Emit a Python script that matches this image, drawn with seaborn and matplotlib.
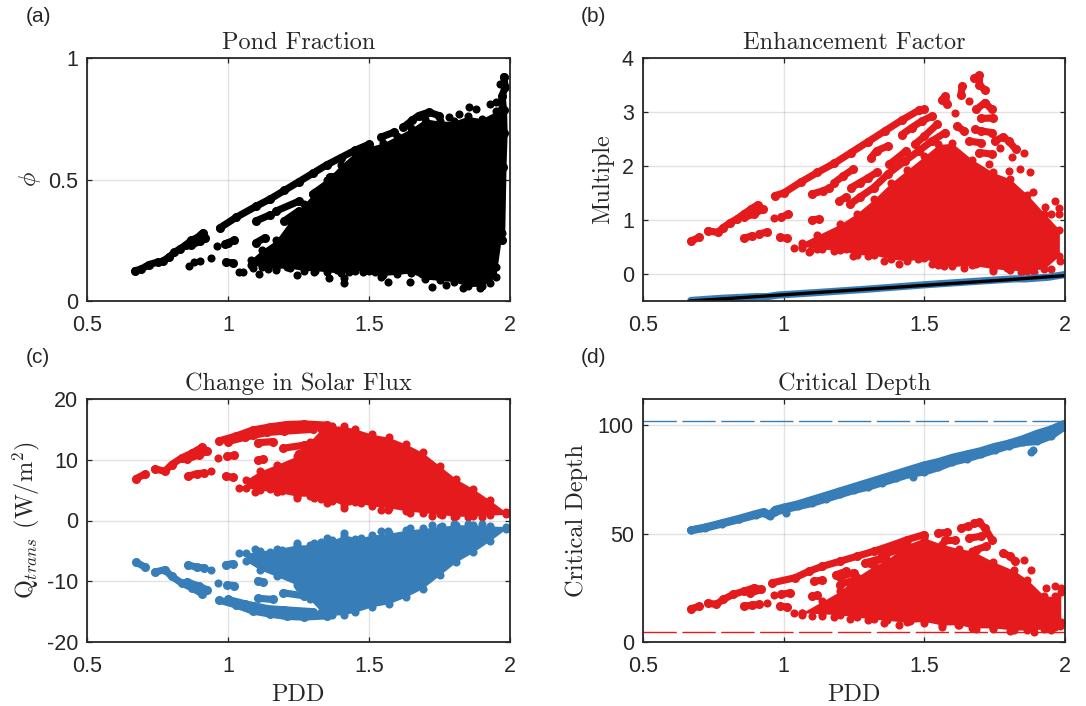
import matplotlib
matplotlib.use("Agg")
import matplotlib.pyplot as plt
import seaborn as sns

sns.set_style("white")
plt.rcParams.update({"font.family": ["Liberation Sans", "DejaVu Sans"], "mathtext.fontset": "cm",
                     "axes.unicode_minus": False})

RED = "#e41a1c"
BLUE = "#377eb8"
BLACK = "#000000"
TXT = "#262626"

# ---------- (a) Pond fraction ----------
a_core_x = [1.08, 1.12, 1.17, 1.22, 1.27, 1.31, 1.35, 1.4, 1.45, 1.5, 1.55, 1.6, 1.65, 1.7, 1.75, 1.8, 1.85, 1.9, 1.95, 1.972]
a_core_hi = [.17, .21, .25, .33, .40, .45, .50, .56, .61, .635, .65, .68, .71, .75, .74, .74, .76, .75, .78, .84]
a_core_lo = [.15, .14, .135, .135, .125, .125, .12, .115, .125, .125, .105, .11, .115, .09, .085, .08, .06, .06, .10, .28]
a_edge_x = [1.04, 1.09, 1.11, 1.142, 1.17, 1.21, 1.244, 1.304, 1.358, 1.388, 1.41, 1.41, 1.43, 1.478, 1.52, 1.544, 1.568,
            1.592, 1.646, 1.688, 1.724, 1.772, 1.802, 1.832, 1.892, 1.928, 1.952]
a_edge_y = [.12, .134, .113, .13, .128, .14, .107, .12, .093, .127, .075, .095, .12, .12, .12, .10, .08,
            .127, .08, .113, .056, .066, .10, .052, .052, .073, .14]
a_streak_x = [[.67, .69, .72, .75], [.77, .79, .81, .83, .85, .87, .89, .91, .92, .90, .87],
              [.97, 1.03, 1.1, 1.15, 1.2, 1.25, 1.3, 1.35, 1.4, 1.45, 1.5],
              [1.10, 1.15], [1.17, 1.25], [1.2, 1.25], [1.3, 1.36], [1.36, 1.43], [1.10, 1.13],
              [.99, 1.0, 1.022], [.992, 1.016],
              [1.544, 1.59], [1.622, 1.652, 1.676, 1.712, 1.748],
              [1.97, 1.975, 1.979, 1.977, 1.972, 1.983, 1.978]]
a_streak_y = [[.125, .13, .15, .16], [.165, .18, .20, .215, .23, .25, .26, .28, .26, .245, .23],
              [.30, .345, .39, .42, .455, .49, .525, .56, .59, .62, .645],
              [.33, .355], [.37, .41], [.33, .37], [.44, .49], [.51, .52], [.24, .26],
              [.235, .24, .25], [.16, .157],
              [.675, .695], [.715, .743, .763, .777, .763],
              [.25, .55, .69, .784, .845, .88, .923]]
a_pts_x = [.86, .88, .90, .94, .962, 1.784, 1.82, 1.856, 1.88, 1.928, 1.952, 1.964, 1.054]
a_pts_y = [.145, .16, .165, .175, .226, .757, .77, .797, .79, .811, .818, .893, .12]

# ---------- (b) Enhancement factor ----------
b_core_x = [1.065, 1.12, 1.2, 1.26, 1.32, 1.38, 1.44, 1.5, 1.55, 1.6, 1.67, 1.745, 1.805, 1.866, 1.927, 1.98]
b_core_hi = [.58, .72, .92, 1.12, 1.38, 1.68, 1.93, 2.18, 2.4, 2.42, 2.12, 1.88, 1.76, 1.47, 1.12, .82]
b_core_lo = [.52, .46, .45, .36, .35, .28, .24, .30, .16, .14, .16, .10, .07, .06, .10, .34]
b_edge_x = [1.037, 1.065, 1.095, 1.138, 1.18, 1.22, 1.247, 1.30, 1.356, 1.409, 1.43, 1.478, 1.526, 1.569, 1.642, 1.684, 1.745,
            1.794, 1.842, 1.89, 1.951, 1.982]
b_edge_y = [.48, .49, .42, .46, .42, .46, .34, .34, .25, .18, .31, .28, .18, .14, .12, .18, .06,
            .12, .03, .03, .09, .25]
b_streak_x = [[.67, .70], [.73, .767, .785, .81, .834, .858, .883, .907, .925, .895, .86],
              [.968, 1.0, 1.06, 1.12, 1.18, 1.24, 1.3, 1.36, 1.42, 1.48, 1.5], [.858, .889], [.913, .941],
              [.992, 1.016], [.986, 1.013],
              [1.10, 1.14, 1.162], [1.18, 1.21, 1.247], [1.198, 1.22], [1.24, 1.27, 1.30, 1.33],
              [1.31, 1.33, 1.37], [1.375, 1.405, 1.435], [1.42, 1.455, 1.49, 1.526], [1.466, 1.50, 1.545],
              [1.10, 1.125], [1.235, 1.27, 1.32, 1.37, 1.43, 1.48, 1.526, 1.575],
              [1.563, 1.575, 1.58], [1.635, 1.63], [1.678, 1.696, 1.696, 1.715], [1.685, 1.715], [1.715, 1.74], [1.70, 1.745],
              [1.617, 1.64], [1.68, 1.70, 1.74], [1.66, 1.70], [1.695, 1.74], [1.75, 1.78, 1.80, 1.825]]
b_streak_y = [[.61, .68], [.80, .77, .86, .95, 1.02, 1.11, 1.2, 1.28, 1.2, 1.11, 1.05],
              [1.45, 1.5, 1.7, 1.88, 2.05, 2.25, 2.45, 2.65, 2.85, 3.03, 3.05], [.66, .71], [.74, .78],
              [1.05, 1.11], [.68, .66],
              [1.48, 1.54, 1.59], [1.69, 1.81, 1.94], [1.35, 1.42], [1.6, 1.69, 1.78, 1.88],
              [2.15, 2.28, 2.37], [2.03, 2.15, 2.28], [2.58, 2.71, 2.83, 2.92], [2.4, 2.55, 2.77],
              [1.0, 1.02], [1.29, 1.42, 1.6, 1.85, 2.09, 2.28, 2.46, 2.62],
              [3.23, 3.29, 3.14], [3.48, 3.32], [3.63, 3.68, 3.5, 3.41], [3.05, 3.17], [3.17, 3.05], [2.88, 2.89],
              [2.74, 2.65], [2.68, 2.65, 2.62], [2.46, 2.43], [2.25, 2.22], [2.46, 2.54, 2.46, 2.31]]
b_pts_x = [.964, 1.09, 1.61, 1.66, 1.855, 1.81, 1.84, 1.876, 1.77, 1.73, 1.80, 1.885, 1.93, 1.964, 1.95, 1.98, 1.98]
b_pts_y = [1.03, .4, 2.98, 3.2, 2.25, 2.17, 1.94, 1.89, 2.34, 2.03, 1.9, 1.51, 1.25, 1.35, 1.11, 1.23, 1.11]
b_blue_x = [.67, .78, .90, .94, .98, 1.1, 1.3, 1.5, 1.7, 1.82, 1.86, 1.94, 2.0]
b_blue_y = [-.49, -.45, -.42, -.42, -.39, -.35, -.28, -.20, -.13, -.09, -.09, -.06, -.01]
b_line_x = [.665, .8, 1.0, 1.2, 1.4, 1.6, 1.8, 2.0]
b_line_y = [-.5, -.455, -.385, -.315, -.245, -.175, -.105, -.03]

# ---------- (c) Change in solar flux ----------
c_core_x = [1.064, 1.112, 1.172, 1.244, 1.29, 1.33, 1.37, 1.41, 1.45, 1.51, 1.57, 1.63, 1.69, 1.75, 1.81, 1.87, 1.93, 1.985]
c_red_hi = [6.7, 8.1, 9.2, 10.6, 13.0, 15.0, 15.6, 15.5, 15.1, 14.2, 13.7, 12.6, 11.2, 9.0, 6.8, 5.2, 3.3, 1.4]
c_red_lo = [5.4, 5.0, 4.7, 4.0, 4.0, 3.6, 3.2, 2.5, 3.0, 2.4, 2.1, 1.6, 1.3, 1.0, .7, .7, .9, 1.0]
c_blue_hi = [-5.4, -5.0, -4.7, -4.0, -4.0, -3.6, -3.2, -2.5, -3.0, -2.4, -2.1, -1.6, -1.3, -1.0, -.7, -.7, -.9, -1.0]
c_blue_lo = [-6.7, -8.1, -9.2, -10.6, -13.0, -15.0, -15.6, -15.5, -15.1, -14.2, -13.7, -12.6, -11.2, -9.0, -6.8, -5.2, -3.3, -1.4]
c_edge_x = [1.094, 1.148, 1.19, 1.244, 1.304, 1.352, 1.37, 1.412, 1.43, 1.472, 1.544, 1.568, 1.646, 1.724, 1.76, 1.80, 1.85, 1.9]
c_edge_red = [4.7, 5.2, 4.8, 3.7, 3.7, 2.9, 4.0, 2.1, 3.2, 2.9, 1.8, 1.7, 1.3, .7, .9, .6, .5, .6]
c_edge_blue = [-4.7, -5.2, -4.8, -3.7, -3.7, -2.9, -4.0, -2.1, -3.2, -2.9, -1.8, -1.7, -1.3, -.7, -.9, -.6, -.5, -.6]
c_streak_x = [[.674, .704], [.74, .776, .80, .836, .872, .908, .926, .896, .855],
              [.968, 1.028, 1.088, 1.148, 1.208, 1.268, 1.35], [1.0, 1.06, 1.09, 1.14, 1.20, 1.3],
              [1.106, 1.16], [1.196, 1.27, 1.32], [1.106, 1.124], [.998, 1.022], [.992, 1.016],
              [.858, .89, .914], [1.25, 1.3]]
c_red_y = [[6.9, 7.6], [8.5, 8.1, 9.2, 10.3, 11.1, 12.05, 11.4, 10.8, 10.1],
           [13.1, 13.9, 14.9, 15.4, 15.8, 15.9, 15.7], [13.0, 13.7, 14.0, 14.5, 14.7, 15.0],
           [12.8, 13.0], [11.9, 12.4, 13.0], [9.9, 10.1], [10.6, 10.7], [7.3, 7.1],
           [7.3, 7.7, 7.8], [11.0, 11.8]]
c_blue_y = [[-6.9, -7.6], [-8.5, -8.1, -9.2, -10.3, -11.1, -12.05, -11.4, -10.8, -10.1],
            [-13.1, -13.9, -14.9, -15.4, -15.8, -15.9, -15.7], [-13.0, -13.7, -14.0, -14.5, -14.7, -15.0],
            [-12.8, -13.0], [-11.9, -12.4, -13.0], [-9.9, -10.1], [-10.6, -10.7], [-7.3, -7.1],
            [-7.3, -7.7, -7.8], [-11.0, -11.8]]
c_pts_x = [.94, .964, 1.038]
c_pts_red = [8.2, 10.3, 5.4]
c_pts_blue = [-8.2, -10.3, -5.4]

# ---------- (d) Critical depth ----------
d_blue_x = [.67, .72, .78, .84, .90, .93, .95, .97, 1.0, 1.05, 1.1, 1.15, 1.2, 1.25, 1.3, 1.35, 1.4, 1.45, 1.5,
            1.55, 1.6, 1.65, 1.7, 1.75, 1.8, 1.85, 1.9, 1.95, 1.995]
d_blue_hi = [51.5, 52.8, 54.8, 56.8, 59, 60, 58.5, 61, 62, 63.5, 65.5, 67.5, 69.5, 71.5, 73.5, 75.5, 77.5, 79.5, 81.5,
             83, 85, 86.5, 88, 90, 91.5, 93.5, 96, 98, 100.5]
d_blue_lo = [51.5, 52.5, 54.5, 56.5, 58.5, 59.5, 58, 60, 61, 62.5, 64, 66, 68, 70, 71.5, 73.5, 75.5, 77.5, 78.5,
             80.5, 83, 84.5, 86.5, 88.5, 90.5, 92, 92.5, 95, 99]
d_blue_px = [1.88, 1.885, 1.46, 1.01]
d_blue_py = [87.5, 88.5, 76, 59.5]
d_core_x = [1.065, 1.138, 1.2, 1.26, 1.32, 1.368, 1.44, 1.5, 1.563, 1.623, 1.67, 1.745, 1.818, 1.866, 1.927, 1.964, 1.985]
d_core_hi = [13.5, 18.8, 23.4, 30, 35, 38, 45, 48, 45, 43, 42, 37, 33, 28.8, 21.1, 21, 23]
d_core_lo = [13.5, 13, 12.5, 11.5, 10.5, 10, 9, 9.5, 7.8, 8, 6.5, 6.5, 5.5, 5.5, 6, 7, 9]
d_edge_x = [1.065, 1.1, 1.138, 1.18, 1.235, 1.3, 1.356, 1.41, 1.45, 1.5, 1.563, 1.62, 1.684, 1.745, 1.806, 1.89, 1.95, 1.982]
d_edge_y = [12.5, 11.8, 11.9, 11.5, 10.4, 10, 8.9, 7.7, 9.5, 8.9, 7, 7.8, 5.8, 6.2, 5, 4.8, 5.5, 7.4]
d_streak_x = [[.67, .70], [.73, .76, .785, .82, .858, .895, .92, .88], [.96, 1.04, 1.09, 1.138, 1.2, 1.26, 1.32, 1.38, 1.44, 1.5],
              [.858, .889, .913], [.992, 1.022], [.986, 1.013], [1.107, 1.138], [1.186, 1.222], [1.2, 1.25], [1.308, 1.356],
              [1.1, 1.12], [1.55, 1.58], [1.575, 1.61], [1.63, 1.654], [1.678, 1.696, 1.715, 1.74], [1.66, 1.70], [1.72, 1.685],
              [1.78, 1.805, 1.823], [1.35, 1.44], [1.29, 1.36], [1.2, 1.25]]
d_streak_y = [[15.3, 16.5], [18, 17.3, 19.6, 21.9, 23.4, 25, 24.2, 22.5], [27.3, 29.6, 32.6, 34.9, 37.2, 39.5, 41.8, 44.4, 47.2, 49.5],
              [16.5, 17, 17.3], [21.9, 22.7], [16.5, 16.1], [28, 28.5], [31, 32.6], [26.5, 28.5], [36.4, 38.5],
              [21.1, 21.5], [50.2, 50.5], [47.2, 47.2], [52.5, 53.3], [54.8, 55.1, 52.5, 47.2], [47.9, 48.7], [44.1, 42.6],
              [41, 39.5, 37.2], [40, 44], [36.5, 39], [30, 32]]
d_pts_x = [.94, .964, 1.037, 1.855, 1.88, 1.933, 1.964, 1.985]
d_pts_y = [18, 21.6, 13.5, 37.7, 33.1, 25, 25.7, 25]
d_blue_ref = [101.8]
d_red_ref = [4.8]

panel_labels = ["(a)", "(b)", "(c)", "(d)"]
titles = ["Pond Fraction", "Enhancement Factor", "Change in Solar Flux", "Critical Depth"]
xtick_vals = [0.5, 1, 1.5, 2]
xtick_txt = ["0.5", "1", "1.5", "2"]

W, H = 1086, 706
MS = 34
LW = 5.6
fig = plt.figure(figsize=(W / 100, H / 100), dpi=100)


def make_ax(x0, y0, x1, y1, ylim, yticks, ytxt, ylabel, title, tag, tag_x, lab_x, xlabel=None):
    ax = fig.add_axes([x0 / W, 1 - y1 / H, (x1 - x0) / W, (y1 - y0) / H])
    ax.set_xlim(0.5, 2)
    ax.set_ylim(*ylim)
    ax.set_xticks(xtick_vals, xtick_txt)
    ax.set_yticks(yticks, ytxt)
    ax.tick_params(direction="in", length=3.5, width=0.9, top=True, right=True, bottom=True, left=True,
                   labelsize=15.5, colors=TXT, pad=6.5)
    ax.tick_params(axis="x", pad=10)
    ax.set_axisbelow(False)
    ax.grid(True, color=(.15, .15, .15), alpha=.13, lw=1.0)
    for s in ax.spines.values():
        s.set_visible(True)
        s.set_linewidth(1.3)
        s.set_color(TXT)
        s.set_zorder(10)
    ax.set_title(title, family="cmr10", fontsize=17.5, color=TXT, pad=6.5)
    if xlabel:
        ax.set_xlabel(xlabel, family="cmr10", fontsize=17.5, color=TXT, labelpad=5)
    ax.set_ylabel("")
    fig.text(lab_x / W, 1 - (y0 - 41) / H, tag, fontsize=15, color=TXT, ha="left", va="center")
    fig.text(tag_x / W, 1 - (y0 + y1) / 2 / H, ylabel, rotation=90, family="cmr10", fontsize=17.5, color=TXT,
             ha="center", va="center")
    return ax


def cloud(ax, x, y, color, s=MS):
    sns.scatterplot(x=x, y=y, ax=ax, color=color, s=s, linewidth=0, legend=False, zorder=3)


def stroke(ax, x, y, color, lw=LW):
    sns.lineplot(x=x, y=y, ax=ax, color=color, lw=lw, sort=False, estimator=None, legend=False, zorder=3,
                 solid_capstyle="round", solid_joinstyle="round")


def core(ax, x, lo, hi, color):
    ax.fill_between(x, lo, hi, color=color, lw=0, zorder=3)
    cloud(ax, x, lo, color)
    cloud(ax, x, hi, color)


def streaks(ax, xs, ys, color):
    for x, y in zip(xs, ys):
        stroke(ax, x, y, color, lw=LW * 0.92)
        cloud(ax, x, y, color, s=MS * 1.25)


ax = make_ax(87, 58, 510, 301, (0, 1), [0, .5, 1], ["0", "0.5", "1"], r"$\phi$", titles[0], panel_labels[0], 30, 26)
core(ax, a_core_x, a_core_lo, a_core_hi, BLACK)
cloud(ax, a_edge_x, a_edge_y, BLACK)
streaks(ax, a_streak_x, a_streak_y, BLACK)
cloud(ax, a_pts_x, a_pts_y, BLACK)

ax = make_ax(643, 58, 1065, 301, (-.5, 4), [0, 1, 2, 3, 4], ["0", "1", "2", "3", "4"], "Multiple", titles[1], panel_labels[1], 603, 581)
core(ax, b_core_x, b_core_lo, b_core_hi, RED)
cloud(ax, b_edge_x, b_edge_y, RED)
streaks(ax, b_streak_x, b_streak_y, RED)
cloud(ax, b_pts_x, b_pts_y, RED)
stroke(ax, b_blue_x, b_blue_y, BLUE, lw=5.2)
sns.lineplot(x=b_line_x, y=b_line_y, ax=ax, color=BLACK, lw=2.4, zorder=4, legend=False)

ax = make_ax(87, 399, 510, 642, (-20, 20), [-20, -10, 0, 10, 20], ["-20", "-10", "0", "10", "20"],
             r"$\mathrm{Q}_{trans}$ $\mathrm{(W/m^2)}$", titles[2], panel_labels[2], 26, 26, xlabel="PDD")
core(ax, c_core_x, c_red_lo, c_red_hi, RED)
core(ax, c_core_x, c_blue_lo, c_blue_hi, BLUE)
cloud(ax, c_edge_x, c_edge_red, RED)
cloud(ax, c_edge_x, c_edge_blue, BLUE)
streaks(ax, c_streak_x, c_red_y, RED)
streaks(ax, c_streak_x, c_blue_y, BLUE)
cloud(ax, c_pts_x, c_pts_red, RED)
cloud(ax, c_pts_x, c_pts_blue, BLUE)

ax = make_ax(643, 399, 1065, 642, (0, 112), [0, 50, 100], ["0", "50", "100"], "Critical Depth", titles[3], panel_labels[3], 577, 581, xlabel="PDD")
core(ax, d_core_x, d_core_lo, d_core_hi, RED)
cloud(ax, d_edge_x, d_edge_y, RED)
streaks(ax, d_streak_x, d_streak_y, RED)
cloud(ax, d_pts_x, d_pts_y, RED)
core(ax, d_blue_x, d_blue_lo, d_blue_hi, BLUE)
stroke(ax, d_blue_x, d_blue_hi, BLUE)
stroke(ax, d_blue_x, d_blue_lo, BLUE)
cloud(ax, d_blue_px, d_blue_py, BLUE)
ax.axhline(d_blue_ref[0], color=BLUE, lw=1, ls=(0, (24, 4)), zorder=4)
ax.axhline(d_red_ref[0], color=RED, lw=1, ls=(0, (24, 4)), zorder=4)

fig.savefig("out.png", dpi=100, facecolor="white")
